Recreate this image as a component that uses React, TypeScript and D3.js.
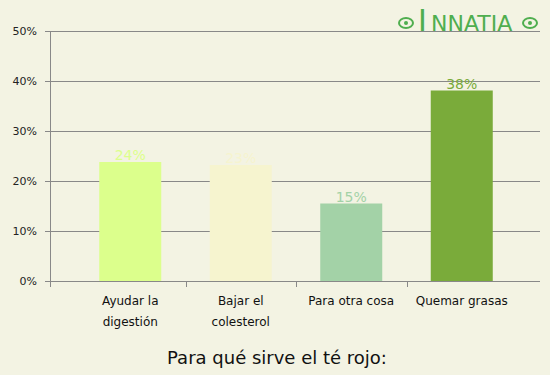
import React, { useEffect, useRef } from "react";
import * as d3 from "d3";

const categories = [["Ayudar la", "digestión"], ["Bajar el", "colesterol"], ["Para otra cosa"], ["Quemar grasas"]];
const values = [23.8, 23.2, 15.5, 38.1];
const valueLabels = ["24%", "23%", "15%", "38%"];
const barColors = ["#dcff8c", "#f6f4cf", "#a3d2a7", "#7aab3a"];
const yTicks = [0, 10, 20, 30, 40, 50];

const App = () => {
  const svgRef = useRef<SVGSVGElement>(null);

  useEffect(() => {
    document.body.style.margin = "0";
    const w = 550;
    const h = 375;
    const svg = d3.select(svgRef.current).attr("width", w).attr("height", h);
    svg.selectAll("*").remove();
    const font = "DejaVu Sans, Verdana, sans-serif";

    svg.append("rect").attr("width", w).attr("height", h).attr("fill", "#f3f3e3");

    const y = d3.scaleLinear().domain([0, 50]).range([281, 31]);
    const x = d3.scaleBand<number>().domain(d3.range(values.length)).range([75, 517]);
    const barW = 62;

    // grid
    svg
      .selectAll(".grid")
      .data(yTicks)
      .join("line")
      .attr("x1", 45)
      .attr("x2", 540)
      .attr("y1", (d) => y(d) + 0.5)
      .attr("y2", (d) => y(d) + 0.5)
      .attr("stroke", "#888")
      .attr("stroke-width", 1);

    svg
      .selectAll(".ylab")
      .data(yTicks)
      .join("text")
      .attr("x", 37)
      .attr("y", (d) => y(d) + 4)
      .attr("text-anchor", "end")
      .attr("font-family", font)
      .attr("font-size", 11)
      .attr("fill", "#222")
      .text((d) => d + "%");

    // logo
    const logo = svg.append("g").attr("fill", "#4fae4f");
    logo
      .append("text")
      .attr("x", 418)
      .attr("y", 31)
      .attr("font-family", "DejaVu Sans, sans-serif")
      .attr("font-size", 30)
      .text("I");
    logo
      .append("text")
      .attr("x", 431)
      .attr("y", 31)
      .attr("font-family", "DejaVu Sans, sans-serif")
      .attr("font-size", 22)
      .text("NNATIA");
    [[406, 23], [530, 23]].forEach(([cx, cy]) => {
      logo
        .append("ellipse")
        .attr("cx", cx)
        .attr("cy", cy)
        .attr("rx", 7)
        .attr("ry", 5)
        .attr("fill", "none")
        .attr("stroke", "#4fae4f")
        .attr("stroke-width", 2);
      logo.append("circle").attr("cx", cx).attr("cy", cy).attr("r", 2);
    });

    // bars
    svg
      .selectAll(".bar")
      .data(values)
      .join("rect")
      .attr("x", (_, i) => x(i)! + x.bandwidth() / 2 - barW / 2)
      .attr("y", (d) => y(d))
      .attr("width", barW)
      .attr("height", (d) => y(0) - y(d))
      .attr("fill", (_, i) => barColors[i]);

    svg
      .selectAll(".vlab")
      .data(values)
      .join("text")
      .attr("x", (_, i) => x(i)! + x.bandwidth() / 2)
      .attr("y", (d) => y(d) - 2)
      .attr("text-anchor", "middle")
      .attr("font-family", font)
      .attr("font-size", 14)
      .attr("fill", (_, i) => barColors[i])
      .text((_, i) => valueLabels[i]);

    // axes
    svg.append("line").attr("x1", 50.5).attr("x2", 50.5).attr("y1", 31).attr("y2", 287).attr("stroke", "#888");
    const xt = [50, ...d3.range(1, values.length).map((i) => x(i)!)];
    svg
      .selectAll(".xt")
      .data(xt)
      .join("line")
      .attr("x1", (d) => Math.round(d) + 0.5)
      .attr("x2", (d) => Math.round(d) + 0.5)
      .attr("y1", 281)
      .attr("y2", 287)
      .attr("stroke", "#888");

    const cat = svg
      .selectAll(".cat")
      .data(categories)
      .join("text")
      .attr("text-anchor", "middle")
      .attr("font-family", font)
      .attr("font-size", 12)
      .attr("fill", "#111");
    cat
      .selectAll("tspan")
      .data((d, i) => d.map((t) => ({ t, i })))
      .join("tspan")
      .attr("x", (d) => x(d.i)! + x.bandwidth() / 2)
      .attr("y", (_, j) => 305 + j * 21)
      .text((d) => d.t);

    svg
      .append("text")
      .attr("x", 277)
      .attr("y", 364)
      .attr("text-anchor", "middle")
      .attr("font-family", font)
      .attr("font-size", 18)
      .attr("fill", "#111")
      .text("Para qué sirve el té rojo:");
  }, []);

  return (
    <div>
      <svg ref={svgRef} style={{ display: "block" }}></svg>
    </div>
  );
};

export default App;
